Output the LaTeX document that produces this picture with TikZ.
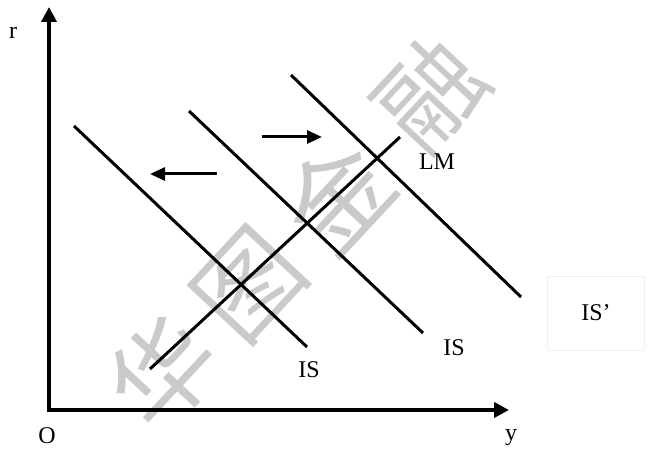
\documentclass[tikz,border=0pt]{standalone}
\usepackage{fontspec}
\setmainfont{Liberation Serif}
\newfontfamily\cjk{Noto Sans CJK SC}
\usetikzlibrary{positioning,arrows.meta}
\definecolor{mark}{HTML}{CACACA}
\tikzset{
  axis/.style={line width=3.8pt, -{Triangle[length=15pt,width=15pt]}},
  curve/.style={line width=3pt},
  movearrow/.style={line width=3pt, -{Triangle[length=15pt,width=13pt]}},
  lab/.style={font=\fontsize{24}{28}\selectfont, inner sep=0pt},
  wmark/.style={font=\cjk\fontsize{104}{106}\selectfont, text=mark, inner sep=0pt, rotate=47},
}
\begin{document}
\begin{tikzpicture}[x=1pt,y=-1pt]
\useasboundingbox (0,0) rectangle (649,452);
% watermark
\foreach \i/\c/\px/\py in {1/华/163/372,2/图/250/285,3/金/337/196,4/融/430/94}
  \node[wmark] (wm\i) at (\px,\py) {\c};

% axes
\coordinate (O) at (49,410);
\coordinate (rtop) at (49,7);
\coordinate (yend) at (509,410);
\draw[axis] ([yshift=-1.9pt]O) -- (rtop);
\draw[axis] ([xshift=-1.9pt]O) -- (yend);
\node[lab] (r) at (13,33) {r};
\node[lab] (o) at (47,436) {O};
\node[lab] (y) at (511,438) {y};

% IS curves
\coordinate (a1) at (74,126);  \coordinate (a2) at (307,347);
\coordinate (b1) at (189,111); \coordinate (b2) at (423,333);
\coordinate (c1) at (291,75);  \coordinate (c2) at (521,297);
\draw[curve] (a1) -- (a2);
\draw[curve] (b1) -- (b2);
\draw[curve] (c1) -- (c2);
% LM curve
\coordinate (lm1) at (150,369); \coordinate (lm2) at (400,137);
\draw[curve] (lm1) -- (lm2);

% shift arrows
\coordinate (rs) at (262,137); \coordinate (re) at (322,137);
\coordinate (ls) at (217,174); \coordinate (le) at (150,174);
\draw[movearrow] (rs) -- (re);
\draw[movearrow] (ls) -- (le);

% labels
\node[lab] (lmlab) at (437,162) {LM};
\node[lab] (is1) at (309,370) {IS};
\node[lab] (is2) at (454,348) {IS};
\node[lab, draw=black!6, line width=0.6pt, minimum width=97pt, minimum height=74pt] (is3) at (596,313) {IS’};
\end{tikzpicture}
\end{document}
